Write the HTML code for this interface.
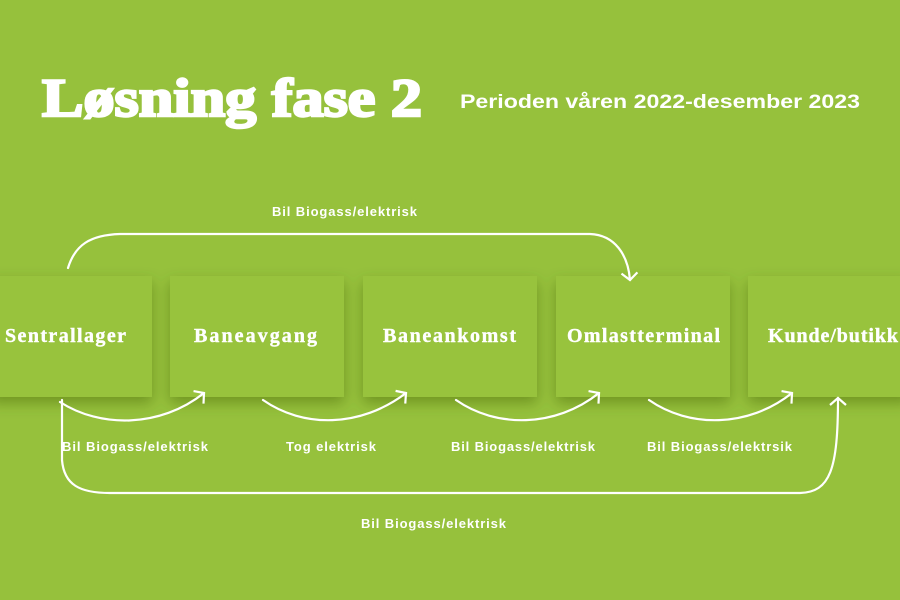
<!DOCTYPE html>
<html><head><meta charset="utf-8"><style>
html,body{margin:0;padding:0;background:#96c13c;}
svg{display:block}
</style></head><body>
<svg width="900" height="600" viewBox="0 0 900 600" xmlns="http://www.w3.org/2000/svg">
<defs>
<filter id="sh" x="-20%" y="-20%" width="140%" height="160%">
<feDropShadow dx="0" dy="6" stdDeviation="7" flood-color="#3f5e10" flood-opacity="0.45"/>
</filter>
<marker id="ah" markerWidth="16" markerHeight="18" refX="8" refY="9" orient="auto" markerUnits="userSpaceOnUse">
<path d="M1,1 L8,9 L1,17" fill="none" stroke="#fff" stroke-width="2.2"/>
</marker>
</defs>
<rect width="900" height="600" fill="#96c13c"/>
<text x="42" y="116" font-family="Liberation Serif, serif" font-weight="bold" font-size="54" fill="#fff" stroke="#fff" stroke-width="2.5" textLength="380" lengthAdjust="spacingAndGlyphs">Løsning fase 2</text>
<text x="460" y="108" font-family="Liberation Sans, sans-serif" font-weight="bold" font-size="19" fill="#fff" textLength="400" lengthAdjust="spacingAndGlyphs">Perioden våren 2022-desember 2023</text>

<g filter="url(#sh)" fill="#98c33e">
<rect x="-10" y="276" width="162" height="121"/>
<rect x="170" y="276" width="174" height="121"/>
<rect x="363" y="276" width="174" height="121"/>
<rect x="556" y="276" width="174" height="121"/>
<rect x="748" y="276" width="162" height="121"/>
</g>
<g font-family="Liberation Serif, serif" font-weight="bold" font-size="20" fill="#fff" stroke="#fff" stroke-width="0.4" lengthAdjust="spacingAndGlyphs">
<text x="5" y="342" textLength="121">Sentrallager</text>
<text x="194" y="342" textLength="123">Baneavgang</text>
<text x="383" y="342" textLength="133">Baneankomst</text>
<text x="567" y="342" textLength="153">Omlastterminal</text>
<text x="768" y="342" textLength="130">Kunde/butikk</text>
</g>

<g fill="none" stroke="#fff" stroke-width="2.2" stroke-linecap="round">
<path d="M68,268 C75,245 90,235 120,234 L590,234 C615,235 628,255 630,280" marker-end="url(#ah)"/>
<path d="M62,400 L62,460 C64,485 80,493 110,493 L800,493 C830,492 838,470 838,398" marker-end="url(#ah)"/>
<g marker-end="url(#ah)">
<path d="M60,402 C100,428 160,428 204,393"/>
<path d="M263,400 C303,428 360,428 406,393"/>
<path d="M456,400 C496,428 555,428 599,393"/>
<path d="M649,400 C689,428 748,428 792,393"/>
</g>
</g>
<g font-family="Liberation Sans, sans-serif" font-weight="bold" font-size="13" fill="#fff" lengthAdjust="spacingAndGlyphs">
<text x="272" y="216" textLength="145">Bil Biogass/elektrisk</text>
<text x="62" y="451" textLength="146">Bil Biogass/elektrisk</text>
<text x="286" y="451" textLength="90">Tog elektrisk</text>
<text x="451" y="451" textLength="144">Bil Biogass/elektrisk</text>
<text x="647" y="451" textLength="145">Bil Biogass/elektrsik</text>
<text x="361" y="528" textLength="145">Bil Biogass/elektrisk</text>
</g>
</svg>
</body></html>
